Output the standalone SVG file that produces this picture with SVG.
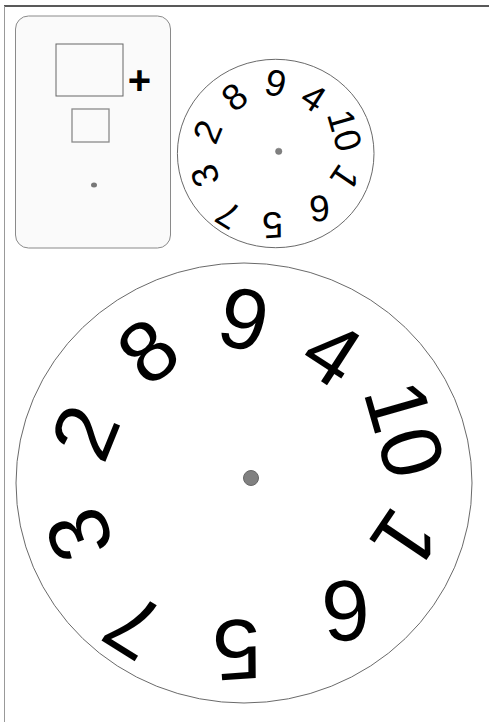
<svg xmlns="http://www.w3.org/2000/svg" xmlns:xlink="http://www.w3.org/1999/xlink" width="489" height="722" viewBox="0 0 489 722">
  <style>
    .dg { font-family: "Liberation Sans", Arial, sans-serif; font-size: 86px; fill: #000; text-anchor: middle; }
    .rim { fill: #fff; stroke: #6a6a6a; stroke-width: 1; }
  </style>
  <defs>
    <g id="digits">
      <text class="dg" transform="translate(0,-165) rotate(13)" y="31">9</text>
      <text class="dg" transform="translate(89,-131) rotate(33)" y="31">4</text>
      <text class="dg" transform="translate(162,-54) rotate(74)" y="31">10</text>
      <text class="dg" transform="translate(162,57) rotate(124)" y="31">1</text>
      <text class="dg" transform="translate(102,129) rotate(176)" y="31">6</text>
      <text class="dg" transform="translate(-7,168) rotate(176)" y="31">5</text>
      <text class="dg" transform="translate(-111,144) rotate(212)" y="31">7</text>
      <text class="dg" transform="translate(-166,52) rotate(250)" y="31">3</text>
      <text class="dg" transform="translate(-160,-51) rotate(292)" y="31">2</text>
      <text class="dg" transform="translate(-97,-133) rotate(321)" y="31">8</text>
      <circle cx="7" cy="-5" r="7.5" fill="#808080" stroke="#666" stroke-width="1"/>
    </g>
  </defs>
  <rect width="489" height="722" fill="#fff"/>
  <line x1="4" y1="6" x2="489" y2="6" stroke="#222" stroke-width="1.5"/>
  <line x1="4.5" y1="6" x2="4.5" y2="722" stroke="#999" stroke-width="1"/>

  <g id="card">
    <rect x="15.5" y="16" width="155" height="232" rx="13" fill="#fafafa" stroke="#8a8a8a" stroke-width="1"/>
    <rect x="56" y="44" width="67" height="52" fill="none" stroke="#666" stroke-width="1"/>
    <rect x="72" y="109" width="37" height="33" fill="none" stroke="#8a8a8a" stroke-width="1.3"/>
    <text x="139.5" y="94" font-family="Liberation Sans, Arial, sans-serif" font-size="40" font-weight="bold" text-anchor="middle" fill="#000">+</text>
    <ellipse cx="94" cy="185" rx="3" ry="2.5" fill="#777"/>
  </g>

  <g id="small-dial">
    <ellipse class="rim" cx="275.7" cy="153.5" rx="98.3" ry="94.2"/>
    <use xlink:href="#digits" transform="translate(275.7,153.5) scale(0.43)"/>
  </g>

  <g id="large-dial">
    <ellipse class="rim" cx="244" cy="483" rx="228" ry="220"/>
    <use xlink:href="#digits" transform="translate(244,483)"/>
  </g>
</svg>
